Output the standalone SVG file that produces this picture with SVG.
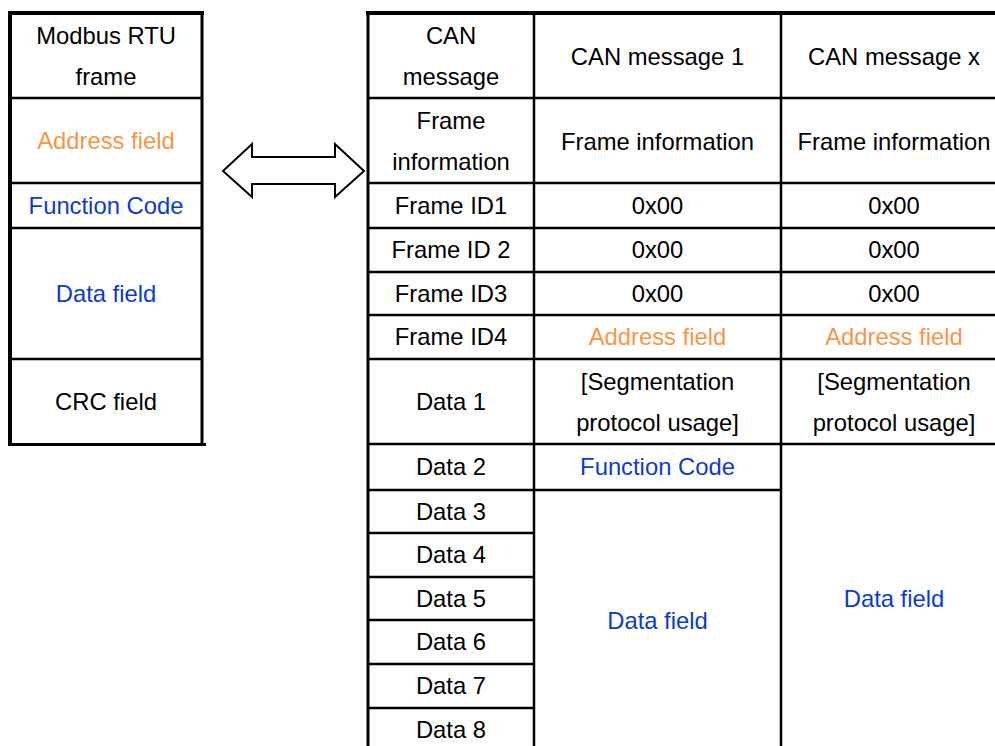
<svg xmlns="http://www.w3.org/2000/svg" width="995" height="746" viewBox="0 0 995 746">
<style>
text{font-family:"Liberation Sans",Arial,sans-serif;font-size:23.8px;fill:#000;text-anchor:middle}
.or{fill:#F79646}
.bl{fill:#0A3CD0}
.ln{stroke:#000;stroke-width:2.5;fill:none}
.bd{stroke:#000;stroke-width:4;fill:none}
</style>
<rect width="995" height="746" fill="#fff"/>
<g id="grid">
<!-- left table -->
<line class="ln" x1="10" y1="98" x2="202" y2="98"/>
<line class="ln" x1="10" y1="183" x2="202" y2="183"/>
<line class="ln" x1="10" y1="228" x2="202" y2="228"/>
<line class="ln" x1="10" y1="359" x2="202" y2="359"/>
<line class="bd" x1="8" y1="13" x2="204" y2="13"/>
<line class="bd" x1="10" y1="11" x2="10" y2="446"/>
<line class="ln" x1="202" y1="12" x2="202" y2="446" style="stroke-width:3"/>
<line class="ln" x1="8" y1="444.5" x2="206" y2="444.5" style="stroke-width:3"/>
<!-- right table -->
<line class="ln" x1="368" y1="98" x2="995" y2="98"/>
<line class="ln" x1="368" y1="183" x2="995" y2="183"/>
<line class="ln" x1="368" y1="228" x2="995" y2="228"/>
<line class="ln" x1="368" y1="272" x2="995" y2="272"/>
<line class="ln" x1="368" y1="315" x2="995" y2="315"/>
<line class="ln" x1="368" y1="359" x2="995" y2="359"/>
<line class="ln" x1="368" y1="444" x2="995" y2="444"/>
<line class="ln" x1="368" y1="490" x2="781" y2="490"/>
<line class="ln" x1="368" y1="533" x2="534" y2="533"/>
<line class="ln" x1="368" y1="577" x2="534" y2="577"/>
<line class="ln" x1="368" y1="620" x2="534" y2="620"/>
<line class="ln" x1="368" y1="664" x2="534" y2="664"/>
<line class="ln" x1="368" y1="708" x2="534" y2="708"/>
<line class="ln" x1="534" y1="13" x2="534" y2="746"/>
<line class="ln" x1="781" y1="13" x2="781" y2="746"/>
<line class="ln" x1="368" y1="12" x2="368" y2="746" style="stroke-width:3"/>
<line class="bd" x1="366" y1="13" x2="995" y2="13"/>
</g>
<g id="connectors">
<polygon points="223,171 252,144 252,157 335,157 335,144 364,171 335,197 335,184 252,184 252,197" fill="#fff" stroke="#000" stroke-width="2" stroke-linejoin="miter"/>
</g>
<g id="modbus-frame">
<g id="m-header"><text x="106" y="44">Modbus RTU</text><text x="106" y="85">frame</text></g>
<g id="m-address"><text class="or" x="106" y="149">Address field</text></g>
<g id="m-function"><text class="bl" x="106" y="214">Function Code</text></g>
<g id="m-data"><text class="bl" x="106" y="302">Data field</text></g>
<g id="m-crc"><text x="106" y="410">CRC field</text></g>
</g>
<g id="can-labels">
<g id="c-header"><text x="451" y="44">CAN</text><text x="451" y="85">message</text></g>
<g id="c-frameinfo"><text x="451" y="129">Frame</text><text x="451" y="170">information</text></g>
<g id="c-id1"><text x="451" y="214">Frame ID1</text></g>
<g id="c-id2"><text x="451" y="258">Frame ID 2</text></g>
<g id="c-id3"><text x="451" y="302">Frame ID3</text></g>
<g id="c-id4"><text x="451" y="345">Frame ID4</text></g>
<g id="c-d1"><text x="451" y="410">Data 1</text></g>
<g id="c-d2"><text x="451" y="475">Data 2</text></g>
<g id="c-d3"><text x="451" y="520">Data 3</text></g>
<g id="c-d4"><text x="451" y="563">Data 4</text></g>
<g id="c-d5"><text x="451" y="607">Data 5</text></g>
<g id="c-d6"><text x="451" y="650">Data 6</text></g>
<g id="c-d7"><text x="451" y="694">Data 7</text></g>
<g id="c-d8"><text x="451" y="738">Data 8</text></g>
</g>
<g id="can-message-1">
<g id="m1-header"><text x="657.5" y="65">CAN message 1</text></g>
<g id="m1-frameinfo"><text x="657.5" y="150">Frame information</text></g>
<g id="m1-id1"><text x="657.5" y="214">0x00</text></g>
<g id="m1-id2"><text x="657.5" y="258">0x00</text></g>
<g id="m1-id3"><text x="657.5" y="302">0x00</text></g>
<g id="m1-id4"><text class="or" x="657.5" y="345">Address field</text></g>
<g id="m1-d1"><text x="657.5" y="390">[Segmentation</text><text x="657.5" y="431">protocol usage]</text></g>
<g id="m1-d2"><text class="bl" x="657.5" y="475">Function Code</text></g>
<g id="m1-data"><text class="bl" x="657.5" y="629">Data field</text></g>
</g>
<g id="can-message-x">
<g id="mx-header"><text x="894" y="65">CAN message x</text></g>
<g id="mx-frameinfo"><text x="894" y="150">Frame information</text></g>
<g id="mx-id1"><text x="894" y="214">0x00</text></g>
<g id="mx-id2"><text x="894" y="258">0x00</text></g>
<g id="mx-id3"><text x="894" y="302">0x00</text></g>
<g id="mx-id4"><text class="or" x="894" y="345">Address field</text></g>
<g id="mx-d1"><text x="894" y="390">[Segmentation</text><text x="894" y="431">protocol usage]</text></g>
<g id="mx-data"><text class="bl" x="894" y="607">Data field</text></g>
</g>
</svg>
